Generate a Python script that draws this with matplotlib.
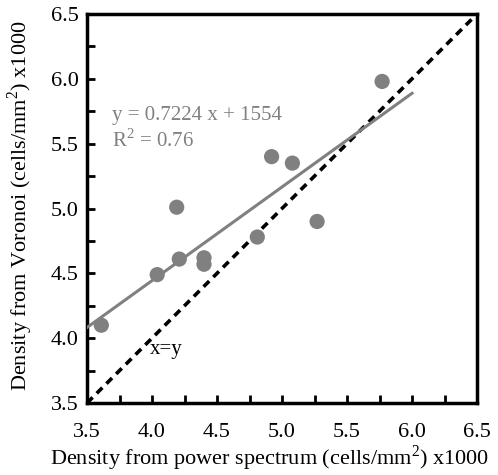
import matplotlib
matplotlib.use('Agg')
import matplotlib.pyplot as plt
from matplotlib.ticker import MultipleLocator

plt.rcParams['font.family'] = ['Liberation Serif', 'DejaVu Serif']
plt.rcParams['mathtext.fontset'] = 'custom'
plt.rcParams['mathtext.rm'] = 'Liberation Serif'

# density x1000 (cells/mm^2)
power_spectrum = [3.61, 4.04, 4.19, 4.21, 4.40, 4.40, 4.81, 4.92, 5.08, 5.27, 5.77]
voronoi = [4.10, 4.49, 5.01, 4.61, 4.62, 4.57, 4.78, 5.40, 5.35, 4.90, 5.98]

slope = 0.7224
intercept = 1.554
fit_x = [3.5, 6.0]

fig = plt.figure(figsize=(4.98, 4.75), dpi=100)
ax = fig.add_axes([87 / 498, 72 / 475, 390 / 498, 389 / 475])

ax.plot([3.5, 6.5], [3.5, 6.5], color='black', lw=2.6, ls=(0, (2.2, 1.6)), zorder=2)
ax.plot(fit_x, [slope * x + intercept for x in fit_x], color='#808080', lw=2.2, zorder=3)
ax.scatter(power_spectrum, voronoi, s=120, color='#808080', edgecolors='none', zorder=4)

ax.text(3.69, 5.72, 'y = 0.7224 x + 1554', color='#808080', fontsize=15, va='center')
ax.text(3.69, 5.525, r'R$^2$ = 0.76', color='#808080', fontsize=15, va='center')
ax.text(3.98, 3.91, 'x=y', color='black', fontsize=15, va='center')

ax.set_xlim(3.5, 6.5)
ax.set_ylim(3.5, 6.5)
ax.xaxis.set_major_locator(MultipleLocator(0.5))
ax.xaxis.set_minor_locator(MultipleLocator(0.25))
ax.yaxis.set_major_locator(MultipleLocator(0.5))
ax.yaxis.set_minor_locator(MultipleLocator(0.25))
ax.xaxis.set_major_formatter(plt.FormatStrFormatter('%.1f'))
ax.yaxis.set_major_formatter(plt.FormatStrFormatter('%.1f'))
ax.tick_params(which='both', direction='in', width=2, labelsize=16, top=False, right=False)
ax.tick_params(which='both', length=6)
ax.tick_params(axis='x', which='major', pad=14.5)
ax.tick_params(axis='y', which='major', pad=6)
for s in ax.spines.values():
    s.set_linewidth(2.5)

ax.set_xlabel(r'Density from power spectrum (cells/mm$^2$) x1000', fontsize=16, va='center')
ax.set_ylabel(r'Density from Voronoi (cells/mm$^2$) x1000', fontsize=16, va='center')
ax.xaxis.set_label_coords(0.467, -0.142)
ax.yaxis.set_label_coords(-0.172, 0.508)

fig.savefig('out.png', dpi=100)
